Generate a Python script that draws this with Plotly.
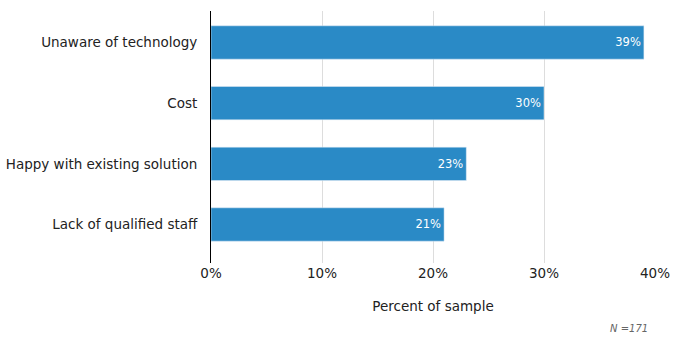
import plotly.graph_objects as go

categories = ["Unaware of technology", "Cost", "Happy with existing solution", "Lack of qualified staff"]
values = [39, 30, 23, 21]
tick_vals = [0, 10, 20, 30, 40]
tick_text = ["0%", "10%", "20%", "30%", "40%"]

fig = go.Figure(go.Bar(
    y=categories, x=values, orientation="h",
    marker_color="#2a8ac6", width=0.55,
    text=[f"{v}%" for v in values], textposition="inside",
    insidetextanchor="end",
    textfont=dict(color="white", size=11.5, family="DejaVu Sans"),
))
fig.update_layout(
    width=675, height=354,
    margin=dict(l=211, r=20, t=11, b=91),
    plot_bgcolor="white", paper_bgcolor="white",
    font=dict(family="DejaVu Sans", size=13.5, color="#222"),
    showlegend=False,
    xaxis=dict(range=[0, 40], tickvals=tick_vals, ticktext=tick_text,
               showgrid=True, gridcolor="#dddddd", zeroline=False, automargin=False,
               showline=False, ticks="", ticklen=0, ticklabelstandoff=0,
               title=dict(text="Percent of sample", standoff=22, font=dict(size=13.5))),
    yaxis=dict(range=[3.635, -0.519], showline=True, linecolor="black", linewidth=1,
               ticks="", ticklabelstandoff=10, showgrid=False, automargin=False),
    annotations=[dict(text="<i>N =171</i>", x=1, y=0, xref="paper", yref="paper",
                      xanchor="right", yanchor="top", yshift=-58, xshift=-5,
                      showarrow=False, font=dict(size=10, color="#666"))],
)
fig.write_html("out.html")
